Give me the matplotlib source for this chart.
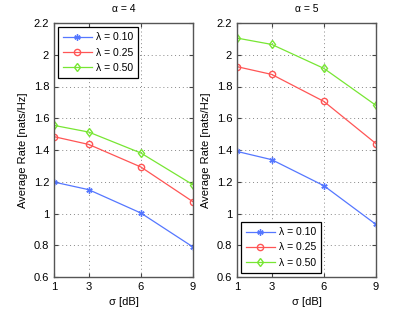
import numpy as np
import matplotlib.pyplot as plt

plt.rcParams['font.family'] = ['Liberation Sans', 'DejaVu Sans']
plt.rcParams['font.size'] = 8

sigma = [1, 3, 6, 9]
labels = ['λ = 0.10', 'λ = 0.25', 'λ = 0.50']

# alpha = 4
a4_l10 = [1.198, 1.150, 1.003, 0.789]
a4_l25 = [1.484, 1.435, 1.293, 1.074]
a4_l50 = [1.555, 1.513, 1.381, 1.181]

# alpha = 5
a5_l10 = [1.391, 1.339, 1.175, 0.931]
a5_l25 = [1.925, 1.876, 1.706, 1.440]
a5_l50 = [2.105, 2.065, 1.914, 1.681]

colors = ['#5577ff', '#ff5555', '#77e633']
markers = [(6, 2, 0), 'o', 'd']

fig = plt.figure(figsize=(4.15, 3.13), dpi=100)
ax1 = fig.add_axes([54 / 415, 1 - 277 / 313, 139 / 415, 254 / 313])
ax2 = fig.add_axes([237 / 415, 1 - 277 / 313, 139 / 415, 254 / 313])

def draw(ax, series, title, loc):
    for vals, c, m, lab in zip(series, colors, markers, labels):
        ax.plot(sigma, vals, color=c, marker=m, markersize=4.5,
                markerfacecolor='none', markeredgecolor=c,
                markeredgewidth=1.0, linewidth=0.9, label=lab)
    ax.set_xlim(1, 9)
    ax.set_ylim(0.6, 2.2)
    ax.set_xticks(sigma)
    ax.set_yticks(np.arange(0.6, 2.21, 0.2))
    ax.set_yticklabels(['0.6', '0.8', '1', '1.2', '1.4', '1.6', '1.8', '2', '2.2'])
    ax.grid(True, linestyle=(0, (1, 3)), color='#888888', linewidth=0.7)
    ax.tick_params(direction='in', length=3, color='#444444', top=True, right=True)
    for s in ax.spines.values():
        s.set_color('#555555')
        s.set_linewidth(1.0)
    ax.set_title(title, fontsize=7.5, pad=8)
    ax.set_xlabel('σ [dB]')
    ax.set_ylabel('Average Rate [nats/Hz]')
    leg = ax.legend(loc=loc, fancybox=False, framealpha=1, edgecolor='black',
                    fontsize=7.5, handlelength=2.7, handletextpad=0.4,
                    borderpad=0.5, labelspacing=0.5, borderaxespad=0.4)
    leg.get_frame().set_linewidth(0.9)

draw(ax1, [a4_l10, a4_l25, a4_l50], 'α = 4', 'upper left')
draw(ax2, [a5_l10, a5_l25, a5_l50], 'α = 5', 'lower left')

fig.savefig('out.png', dpi=100)
